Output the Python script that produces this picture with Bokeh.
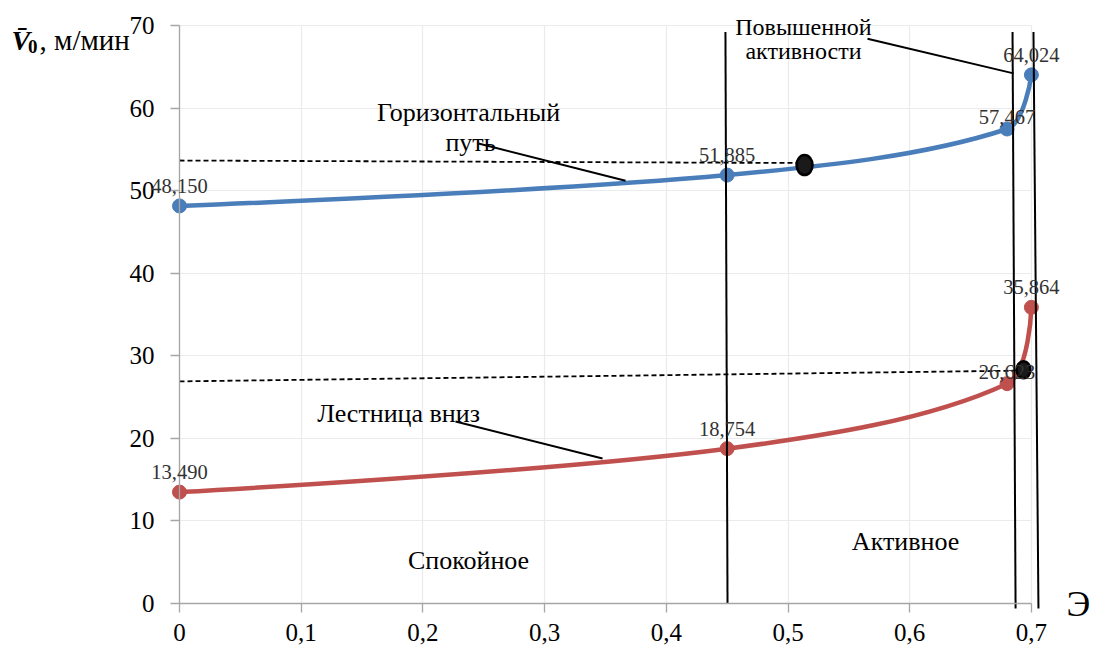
import math
from bokeh.plotting import figure
from bokeh.models import Range1d, FixedTicker, Label
from bokeh.embed import file_html
from bokeh.resources import INLINE

# ---------------- data ----------------
x_points = [0.0, 0.45, 0.68, 0.70]
horizontal_path = [48.150, 51.885, 57.467, 64.024]   # Горизонтальный путь
stairs_down = [13.490, 18.754, 26.623, 35.864]       # Лестница вниз

x_ticks = [0.0, 0.1, 0.2, 0.3, 0.4, 0.5, 0.6, 0.7]
x_tick_labels = ["0", "0,1", "0,2", "0,3", "0,4", "0,5", "0,6", "0,7"]
y_ticks = [0, 10, 20, 30, 40, 50, 60, 70]

# zone boundaries (nearly vertical lines)
boundary_top_x = [0.4486, 0.6845, 0.7017]
boundary_top_y = [69.2, 69.2, 69.2]
boundary_bottom_x = [0.4503, 0.6870, 0.7058]
boundary_bottom_y = [0.0, -0.6, -0.6]

# black markers on the curves
marker_x = [0.5136, 0.6935]
marker_y = [53.1, 28.3]

# dashed reference lines
dash_x0 = [0.0, 0.0]
dash_y0 = [53.65, 26.9]
dash_x1 = [0.507, 0.688]
dash_y1 = [53.35, 28.2]

# leader lines for annotations
leader_x0 = [0.2457, 0.2268, 0.5653]
leader_y0 = [55.7, 22.04, 68.4]
leader_x1 = [0.3665, 0.3476, 0.6853]
leader_y1 = [51.2, 17.56, 64.2]

# ---------------- style ----------------
BLUE = "#4A7EBB"
RED = "#C0504D"
FONT = "Liberation Serif"
W, H = 1094, 649
LEFT_PX, BOTTOM_PX = 179.0, 603.0      # pixel position of data origin
SX, SY = 1217.0, 8.257                  # px per data unit
label_dy = [20, 20, 12, 20]
GRID = "#EBEBEB"
AXIS = "#A6A6A6"


def smooth_segments(xs, ys):
    P = [(x * SX, y * SY) for x, y in zip(xs, ys)]
    n = len(P)
    d = lambda a, b: math.hypot(a[0] - b[0], a[1] - b[1])
    out = {k: [] for k in ("x0", "y0", "x1", "y1", "cx0", "cy0", "cx1", "cy1")}
    for i in range(n - 1):
        p1, p2 = P[i], P[i + 1]
        if i > 0:
            p0 = P[i - 1]
            d01, d12 = d(p0, p1), d(p1, p2)
            f = d12 / (3.0 * (d01 + d12))
            c1 = (p1[0] + (p2[0] - p0[0]) * f, p1[1] + (p2[1] - p0[1]) * f)
        else:
            c1 = p1
        if i + 2 < n:
            p3 = P[i + 2]
            d12, d23 = d(p1, p2), d(p2, p3)
            f = d12 / (3.0 * (d12 + d23))
            c2 = (p2[0] - (p3[0] - p1[0]) * f, p2[1] - (p3[1] - p1[1]) * f)
        else:
            c2 = p2
        out["x0"].append(p1[0] / SX); out["y0"].append(p1[1] / SY)
        out["x1"].append(p2[0] / SX); out["y1"].append(p2[1] / SY)
        out["cx0"].append(c1[0] / SX); out["cy0"].append(c1[1] / SY)
        out["cx1"].append(c2[0] / SX); out["cy1"].append(c2[1] / SY)
    return out


x_range = Range1d(-LEFT_PX / SX, (W - LEFT_PX) / SX)
y_range = Range1d(-(H - BOTTOM_PX) / SY, BOTTOM_PX / SY)

p = figure(width=W, height=H, x_range=x_range, y_range=y_range,
           output_backend="svg", toolbar_location=None,
           min_border_left=0, min_border_right=0, min_border_top=0, min_border_bottom=0)
p.outline_line_color = None
p.background_fill_color = "white"
p.border_fill_color = "white"

p.xaxis.ticker = FixedTicker(ticks=x_ticks)
p.xaxis.major_label_overrides = {t: l for t, l in zip(x_ticks, x_tick_labels)}
p.yaxis.ticker = FixedTicker(ticks=y_ticks)
p.xaxis.fixed_location = 0
p.yaxis.fixed_location = 0
p.xaxis.bounds = (0, 0.7)
p.yaxis.bounds = (0, 70)
for ax in list(p.xaxis) + list(p.yaxis):
    ax.axis_line_color = AXIS
    ax.axis_line_width = 1.3
    ax.major_tick_line_color = AXIS
    ax.major_tick_line_width = 1.3
    ax.major_tick_in = 0
    ax.major_tick_out = 9
    ax.minor_tick_line_color = None
    ax.major_label_text_font = FONT
    ax.major_label_text_font_size = "25px"
    ax.major_label_text_color = "black"
p.xaxis.major_label_standoff = 11
p.yaxis.major_label_standoff = 16

# gridlines restricted to the plotting area
gx = p.xgrid[0]
gy = p.ygrid[0]
if "cross_bounds" in gx.properties():
    gx.ticker = FixedTicker(ticks=x_ticks)
    gy.ticker = FixedTicker(ticks=y_ticks)
    gx.bounds = (0, 0.7); gx.cross_bounds = (0, 70)
    gy.bounds = (0, 70); gy.cross_bounds = (0, 0.7)
    p.grid.grid_line_color = GRID
    p.grid.grid_line_width = 1.2
else:
    p.grid.grid_line_color = None
    p.segment(x_ticks, [0] * len(x_ticks), x_ticks, [70] * len(x_ticks),
              line_color=GRID, line_width=1.2, level="underlay")
    p.segment([0] * len(y_ticks), y_ticks, [0.7] * len(y_ticks), y_ticks,
              line_color=GRID, line_width=1.2, level="underlay")

# dashed lines
p.segment(dash_x0, dash_y0, dash_x1, dash_y1, line_color="black", line_width=1.8, line_dash="5 3")

# curves
for ys, col in ((horizontal_path, BLUE), (stairs_down, RED)):
    seg = smooth_segments(x_points, ys)
    p.bezier(x0=seg["x0"], y0=seg["y0"], x1=seg["x1"], y1=seg["y1"],
             cx0=seg["cx0"], cy0=seg["cy0"], cx1=seg["cx1"], cy1=seg["cy1"],
             line_color=col, line_width=4.5)
    p.scatter(x_points, ys, size=14, fill_color=col, line_color=col)

# zone boundaries
p.segment(boundary_top_x, boundary_top_y, boundary_bottom_x, boundary_bottom_y,
          line_color="black", line_width=2)

# leaders
p.segment(leader_x0, leader_y0, leader_x1, leader_y1, line_color="black", line_width=2)

# black markers
p.ellipse(marker_x, marker_y, width=[16, 14], height=[20, 17], width_units="screen",
          height_units="screen", fill_color="#1a1a1a", line_color="black", line_width=2.5)

# data labels
for ys in (horizontal_path, stairs_down):
    for x, y, dy in zip(x_points, ys, label_dy):
        p.add_layout(Label(x=x, y=y, y_offset=dy, text=f"{y:.3f}".replace(".", ","),
                           text_font=FONT, text_font_size="20.5px", text_align="center",
                           text_baseline="alphabetic", text_color="#333333"))


def add_text(x, y, txt, size="26px", align="center", style="normal"):
    p.add_layout(Label(x=x, y=y, text=txt, text_font=FONT, text_font_size=size,
                       text_align=align, text_baseline="alphabetic", text_font_style=style,
                       text_color="black"))


add_text(0.2375, 59.46, "Горизонтальный")
add_text(0.2391, 55.83, "путь")
add_text(0.18, 23.01, "Лестница вниз")
add_text(0.2375, 5.21, "Спокойное")
add_text(0.5966, 7.51, "Активное")
add_text(0.5127, 69.76, "Повышенной", size="24px")
add_text(0.5127, 66.97, "активности", size="24px")
add_text(0.7387, 0.0, "Э", size="36px")

# y axis title
add_text(-0.1380, 68.2, "V\u0304", size="28px", align="left", style="bold italic")
add_text(-0.1245, 67.5, "0", size="19px", align="left", style="bold")
add_text(-0.1150, 68.2, ", м/мин", size="29px", align="left")

open("out.html", "w").write(file_html(p, INLINE))
